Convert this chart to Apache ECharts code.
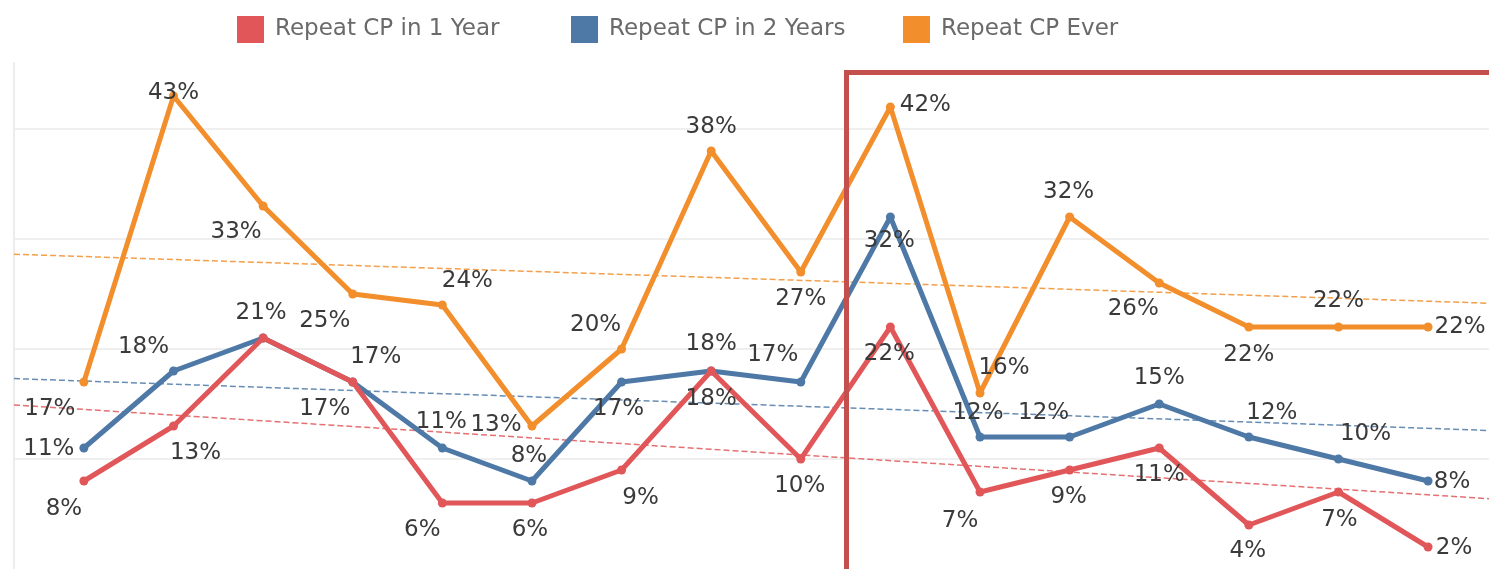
<!DOCTYPE html>
<html>
<head>
<meta charset="utf-8">
<title>Repeat CP</title>
<script src="https://cdn.jsdelivr.net/npm/echarts@6/dist/echarts.min.js"></script>
<style>
  html, body { margin: 0; padding: 0; background: #fff; }
  #chart { width: 1489px; height: 569px; }
</style>
</head>
<body>
<div id="chart"></div>
<script>
// values in percent, one per period (16 periods, no axis labels shown)
const seriesNames = ['Repeat CP in 1 Year', 'Repeat CP in 2 Years', 'Repeat CP Ever'];
const repeat1Year = [8, 13, 21, 17, 6, 6, 9, 18, 10, 22, 7, 9, 11, 4, 7, 2];
const repeat2Years = [11, 18, 21, 17, 11, 8, 17, 18, 17, 32, 12, 12, 15, 12, 10, 8];
const repeatEver = [17, 43, 33, 25, 24, 13, 20, 38, 27, 42, 16, 32, 26, 22, 22, 22];
const yTicks = [0, 10, 20, 30, 40];

const colors = ['#e15759', '#4e79a7', '#f28e2b'];

// label placement (dx, dy from the point), null = no label
const offs1Year = [[-20,28],[22,27],null,[-28,27],[-20,27],[-2,27],[19,28],[0,28],[-1,27],[-1,27],[-20,29],[-1,27],[0,27],[-1,26],[1,28],[26,1]];
const offs2Years = [[-35,1],[-30,-24],[-2,-25],[23,-25],[-1,-26],[-3,-25],[-3,27],[0,-27],[-28,-27],[-1,24],[-2,-24],[-26,-24],[0,-26],[23,-24],[27,-25],[24,1]];
const offsEver = [[-34,27],[0,-3],[-27,26],[-28,27],[25,-24],[-36,-1],[-26,-24],[0,-24],[0,27],[35,-2],[24,-25],[-1,-25],[-26,26],[0,28],[0,-26],[32,0]];

const xMin = -0.78, xMax = 15.68;
const font = 'DejaVu Sans';

const chart = echarts.init(document.getElementById('chart'));

const buildPoints = (values, offsets) => values.map((v, i) => {
  const o = offsets[i];
  return {
    value: [i, v],
    label: o ? { show: true, offset: o } : { show: false }
  };
});

// least squares trend line across the whole axis
const trend = (values) => {
  const n = values.length;
  const mx = (n - 1) / 2;
  const my = values.reduce((a, b) => a + b, 0) / n;
  let sxy = 0, sxx = 0;
  values.forEach((v, i) => { sxy += (i - mx) * (v - my); sxx += (i - mx) * (i - mx); });
  const b = sxy / sxx;
  return [[xMin, my + b * (xMin - mx)], [xMax, my + b * (xMax - mx)]];
};

const lineSeries = (name, values, offsets, color, z) => ({
  name: name,
  type: 'line',
  data: buildPoints(values, offsets),
  symbol: 'circle',
  symbolSize: 9,
  z: z,
  lineStyle: { color: color, width: 5 },
  itemStyle: { color: color },
  label: {
    position: 'inside',
    formatter: (p) => p.value[1] + '%',
    fontFamily: font,
    fontSize: 23,
    color: '#3a3a3a'
  },
  emphasis: { disabled: true }
});

const trendSeries = (name, values, color) => ({
  name: name + ' trend',
  type: 'line',
  data: trend(values),
  symbol: 'none',
  silent: true,
  z: 1,
  lineStyle: { color: color, width: 1.5, type: [6, 3], opacity: 0.85 }
});

const legendAt = (name, left) => ({
  data: [name],
  left: left,
  top: 11,
  icon: 'rect',
  itemWidth: 27,
  itemHeight: 27,
  selectedMode: false,
  textStyle: { fontFamily: font, fontSize: 23, color: '#6a6a6a', padding: [0, 0, 0, 6] }
});

chart.setOption({
  animation: false,
  color: colors,
  legend: [
    legendAt(seriesNames[0], 232),
    legendAt(seriesNames[1], 566),
    legendAt(seriesNames[2], 898)
  ],
  grid: { left: 14, right: 0, top: 63, bottom: 0, containLabel: false },
  xAxis: {
    type: 'value',
    min: xMin,
    max: xMax,
    show: false
  },
  yAxis: {
    type: 'value',
    min: yTicks[0],
    max: 46,
    interval: yTicks[1] - yTicks[0],
    axisLine: { show: true, onZero: false, lineStyle: { color: '#ececec', width: 2 } },
    axisTick: { show: false },
    axisLabel: { show: false },
    splitLine: { show: true, showMinLine: false, showMaxLine: false, lineStyle: { color: '#efefef', width: 2 } }
  },
  series: [
    trendSeries(seriesNames[2], repeatEver, colors[2]),
    trendSeries(seriesNames[1], repeat2Years, colors[1]),
    trendSeries(seriesNames[0], repeat1Year, colors[0]),
    lineSeries(seriesNames[2], repeatEver, offsEver, colors[2], 2),
    lineSeries(seriesNames[1], repeat2Years, offs2Years, colors[1], 3),
    lineSeries(seriesNames[0], repeat1Year, offs1Year, colors[0], 4)
  ],
  graphic: [{
    type: 'rect',
    shape: { x: 846.5, y: 72.5, width: 700, height: 600 },
    style: { fill: null, stroke: '#c4504e', lineWidth: 5 },
    z: 100,
    silent: true
  }]
});
</script>
</body>
</html>
